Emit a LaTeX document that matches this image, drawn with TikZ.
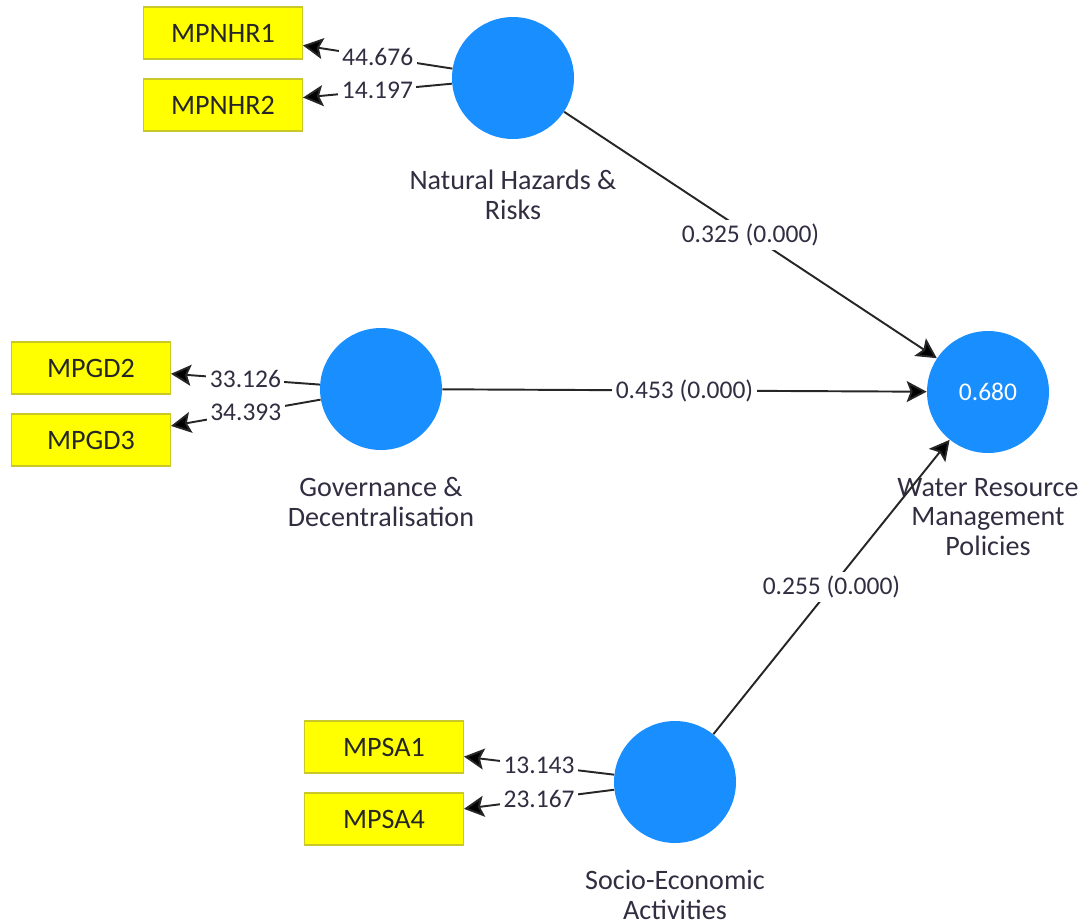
\documentclass[tikz,border=0pt]{standalone}
\usepackage{fontspec}
\setmainfont{Carlito}
\usetikzlibrary{arrows.meta}
\definecolor{lvblue}{RGB}{25,142,255}
\definecolor{indyellow}{RGB}{255,255,0}
\definecolor{indedge}{RGB}{200,200,40}
\definecolor{txtgray}{RGB}{50,45,65}

\begin{document}
\begin{tikzpicture}[x=0.02cm,y=-0.02cm,
   font=\fontsize{14.5pt}{17pt}\selectfont,
   latent/.style={circle,fill=lvblue,minimum size=2.44cm,inner sep=0pt,text=white},
   indicator/.style={rectangle,fill=indyellow,draw=indedge,line width=0.6pt,
      minimum width=3.18cm,minimum height=1.04cm,inner sep=0pt,text=black!85,
      font=\fontsize{16pt}{17pt}\selectfont},
   caption/.style={align=center,text=txtgray,font=\fontsize{16pt}{17pt}\selectfont},
   weight/.style={fill=white,inner sep=2pt,text=txtgray},
   arr/.style={-{Stealth[length=0.4cm,width=0.42cm,inset=0.08cm,fill=black]},line width=1.1pt,black!85}]
   \useasboundingbox (0,0) rectangle (1080,924);
   % latent variables
   \node[latent] (nhr) at (513,78) {};
   \node[latent] (gd) at (381,389) {};
   \node[latent] (wrmp) at (988,392) {0.680};
   \node[latent] (sea) at (675,782) {};
   \node[caption] (nhrlab) at (513,195) {Natural Hazards \&\\Risks};
   \node[caption] (gdlab) at (381,502) {Governance \&\\Decentralisation};
   \node[caption] (wrmplab) at (988,517) {Water Resource\\Management\\Policies};
   \node[caption] (sealab) at (675,895) {Socio-Economic\\Activities};
   % indicators
   \node[indicator] (nhr1) at (223,33) {MPNHR1};
   \node[indicator] (nhr2) at (223,105) {MPNHR2};
   \node[indicator] (gd2) at (91,368) {MPGD2};
   \node[indicator] (gd3) at (91,440) {MPGD3};
   \node[indicator] (sa1) at (384,747) {MPSA1};
   \node[indicator] (sa4) at (384,819) {MPSA4};
   % outer loadings
   \draw[arr] (nhr) -- node[weight] {44.676} (nhr1);
   \draw[arr] (nhr) -- node[weight] {14.197} (nhr2);
   \draw[arr] (gd) -- node[weight] {33.126} (gd2);
   \draw[arr] (gd) -- node[weight] {34.393} (gd3);
   \draw[arr] (sea) -- node[weight] {13.143} (sa1);
   \draw[arr] (sea) -- node[weight] {23.167} (sa4);
   % path coefficients
   \draw[arr] (nhr) -- node[weight] {0.325 (0.000)} (wrmp);
   \draw[arr] (gd) -- node[weight] {0.453 (0.000)} (wrmp);
   \draw[arr] (sea) -- node[weight] {0.255 (0.000)} (wrmp);
\end{tikzpicture}
\end{document}
